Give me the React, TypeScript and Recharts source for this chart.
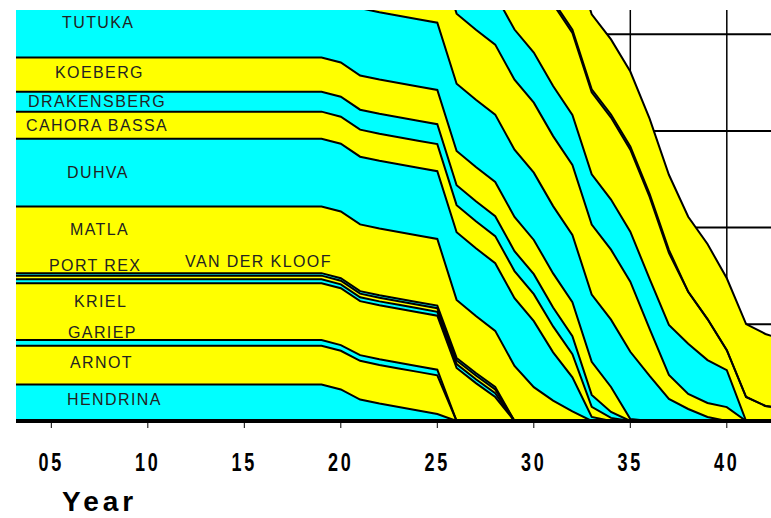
import React from 'react';
import { AreaChart, Area, XAxis, YAxis, CartesianGrid } from 'recharts';

const CYAN = '#00FFFF';
const YELLOW = '#FFFF00';

// capacity in MW, stacked from the bottom up
const years = [3, 19, 20, 21, 22, 23, 24, 25, 26, 27, 28, 29, 30, 31, 32, 33, 34, 35, 36, 37, 38, 39, 40, 41, 42, 43];
const yearTicks = [5, 10, 15, 20, 25, 30, 35, 40];
const gridValues = [5000, 10000, 15000, 20000];

const hendrina = [1890, 1890, 1630, 1110, 900, 720, 540, 360, 0, 0, 0, 0, 0, 0, 0, 0, 0, 0, 0, 0, 0, 0, 0, 0, 0, 0];
const arnot = [2000, 2000, 2000, 2000, 2000, 2000, 2000, 2000, 0, 0, 0, 0, 0, 0, 0, 0, 0, 0, 0, 0, 0, 0, 0, 0, 0, 0];
const gariep = [295, 295, 295, 295, 295, 295, 295, 295, 0, 0, 0, 0, 0, 0, 0, 0, 0, 0, 0, 0, 0, 0, 0, 0, 0, 0];
const kriel = [2940, 2940, 2940, 2790, 2790, 2790, 2790, 2790, 2740, 1960, 1240, 0, 0, 0, 0, 0, 0, 0, 0, 0, 0, 0, 0, 0, 0, 0];
const vanDerKloof = [200, 200, 200, 200, 200, 200, 200, 200, 200, 200, 200, 0, 0, 0, 0, 0, 0, 0, 0, 0, 0, 0, 0, 0, 0, 0];
const acacia = [190, 190, 190, 190, 190, 190, 190, 190, 190, 190, 190, 0, 0, 0, 0, 0, 0, 0, 0, 0, 0, 0, 0, 0, 0, 0];
const portRex = [130, 130, 130, 130, 130, 130, 130, 130, 130, 130, 130, 0, 0, 0, 0, 0, 0, 0, 0, 0, 0, 0, 0, 0, 0, 0];
const matla = [3450, 3450, 3450, 3450, 3450, 3450, 3450, 3450, 3000, 2950, 2900, 2850, 1750, 1050, 500, 0, 0, 0, 0, 0, 0, 0, 0, 0, 0, 0];
const duhva = [3500, 3500, 3500, 3500, 3500, 3500, 3500, 3500, 3500, 3500, 3500, 3500, 3410, 2500, 1760, 210, 0, 0, 0, 0, 0, 0, 0, 0, 0, 0];
const cahoraBassa = [1400, 1400, 1400, 1400, 1400, 1400, 1400, 1400, 1400, 1400, 1400, 1400, 1400, 1340, 1190, 520, 160, 0, 0, 0, 0, 0, 0, 0, 0, 0];
const drakensberg = [1030, 1030, 1030, 1030, 1030, 1030, 1030, 1030, 1030, 1030, 1030, 1030, 1030, 980, 930, 620, 310, 0, 0, 0, 0, 0, 0, 0, 0, 0];
const koeberg = [1770, 1770, 1770, 1770, 1770, 1770, 1770, 1770, 1770, 1770, 1770, 1770, 1770, 1760, 1760, 1710, 1290, 100, 0, 0, 0, 0, 0, 0, 0, 0];
const tutuka = [3480, 3480, 3480, 3480, 3480, 3480, 3480, 3480, 3480, 3480, 3480, 3480, 3480, 3480, 3480, 3480, 3480, 3480, 2330, 1140, 620, 210, 0, 0, 0, 0];
// unlabelled stations above Tutuka (only their lower parts show)
const station14 = [3620, 3620, 3620, 3620, 3620, 3620, 3620, 3620, 3620, 3620, 3620, 3620, 3620, 3620, 3620, 3620, 3620, 3620, 2430, 1240, 780, 720, 720, 0, 0, 0];
const station15 = [2590, 2590, 2590, 2590, 2590, 2590, 2590, 2590, 2590, 2590, 2590, 2590, 2590, 2590, 2590, 2590, 2590, 2590, 2590, 2590, 2590, 2220, 1910, 0, 0, 0];
const station16 = [4240, 4240, 4240, 4240, 4240, 4240, 4240, 4240, 4240, 4240, 4240, 4240, 4240, 4240, 4240, 4240, 4240, 4240, 4240, 3720, 2690, 2120, 1030, 1240, 780, 620];
const station17 = [160, 160, 160, 160, 160, 160, 160, 160, 160, 160, 160, 160, 160, 160, 160, 160, 160, 160, 160, 160, 0, 0, 0, 0, 0, 0];
const station18 = [3880, 3880, 3880, 3880, 3880, 3880, 3880, 3880, 3880, 3880, 3880, 3880, 3880, 3880, 3880, 3880, 3880, 3880, 3880, 3880, 3880, 3880, 3720, 3770, 3720, 3570];

const stations = [
  { key: 'hendrina', values: hendrina, fill: CYAN },
  { key: 'arnot', values: arnot, fill: YELLOW },
  { key: 'gariep', values: gariep, fill: CYAN },
  { key: 'kriel', values: kriel, fill: YELLOW },
  { key: 'vanDerKloof', values: vanDerKloof, fill: CYAN },
  { key: 'acacia', values: acacia, fill: YELLOW },
  { key: 'portRex', values: portRex, fill: CYAN },
  { key: 'matla', values: matla, fill: YELLOW },
  { key: 'duhva', values: duhva, fill: CYAN },
  { key: 'cahoraBassa', values: cahoraBassa, fill: YELLOW },
  { key: 'drakensberg', values: drakensberg, fill: CYAN },
  { key: 'koeberg', values: koeberg, fill: YELLOW },
  { key: 'tutuka', values: tutuka, fill: CYAN },
  { key: 'station14', values: station14, fill: YELLOW },
  { key: 'station15', values: station15, fill: CYAN },
  { key: 'station16', values: station16, fill: YELLOW },
  { key: 'station17', values: station17, fill: CYAN },
  { key: 'station18', values: station18, fill: YELLOW },
];

const labels = [
  { text: 'TUTUKA', x: 62, y: 23 },
  { text: 'KOEBERG', x: 55, y: 73 },
  { text: 'DRAKENSBERG', x: 28, y: 102 },
  { text: 'CAHORA BASSA', x: 26, y: 126 },
  { text: 'DUHVA', x: 67, y: 173 },
  { text: 'MATLA', x: 70, y: 230 },
  { text: 'PORT REX', x: 49, y: 266 },
  { text: 'VAN DER KLOOF', x: 185, y: 262 },
  { text: 'KRIEL', x: 74, y: 302 },
  { text: 'GARIEP', x: 68, y: 333 },
  { text: 'ARNOT', x: 70, y: 363 },
  { text: 'HENDRINA', x: 67, y: 400 },
];

const data = years.map((year, i) => {
  const row: Record<string, number> = { year };
  stations.forEach((s) => {
    row[s.key] = s.values[i];
  });
  return row;
});

const font = '"Liberation Sans", Arial, sans-serif';

function YearTick(props: any) {
  const { x, y, payload } = props;
  return (
    <text
      x={0}
      y={0}
      transform={`translate(${x},${y + 19}) scale(0.72,1)`}
      textAnchor="middle"
      fontSize={25}
      fontWeight="bold"
      fontFamily={font}
      letterSpacing={4}
      fill="#000"
    >
      {String(payload.value).padStart(2, '0')}
    </text>
  );
}

export default function App() {
  return (
    <div style={{ position: 'absolute', left: 0, top: 0, width: 771, height: 518, background: '#fff', overflow: 'hidden' }}>
      <AreaChart width={771} height={518} data={data} margin={{ top: 10, right: 0, left: 16, bottom: 0 }}>
        <CartesianGrid horizontal={false} vertical stroke="#000" strokeWidth={1.5} verticalValues={yearTicks} />
        <CartesianGrid vertical={false} horizontal stroke="#000" strokeWidth={2} horizontalValues={gridValues} />
        <XAxis
          dataKey="year"
          type="number"
          domain={[3.17, 42.29]}
          allowDataOverflow
          ticks={yearTicks}
          height={97}
          tickSize={7}
          tickMargin={24}
          axisLine={{ stroke: '#000', strokeWidth: 4 }}
          tickLine={{ stroke: '#000', strokeWidth: 1 }}
          tick={<YearTick />}
        />
        <YAxis hide domain={[0, 21250]} allowDataOverflow ticks={gridValues} />
        {stations.map((s) => (
          <Area
            key={`fill-${s.key}`}
            dataKey={s.key}
            stackId="fill"
            type="linear"
            fill={s.fill}
            fillOpacity={1}
            stroke="none"
            isAnimationActive={false}
          />
        ))}
        {stations.map((s) => (
          <Area
            key={`line-${s.key}`}
            dataKey={s.key}
            stackId="line"
            type="linear"
            fill="none"
            stroke="#000"
            strokeWidth={2}
            isAnimationActive={false}
          />
        ))}
      </AreaChart>
      {labels.map((l) => (
        <div
          key={l.text}
          style={{
            position: 'absolute',
            left: l.x,
            top: l.y - 9,
            fontFamily: font,
            fontSize: 16,
            lineHeight: '18px',
            letterSpacing: 1.4,
            color: '#222',
            whiteSpace: 'nowrap',
          }}
        >
          {l.text}
        </div>
      ))}
      <div
        style={{
          position: 'absolute',
          left: 62,
          top: 488,
          fontFamily: font,
          fontSize: 28,
          fontWeight: 'bold',
          letterSpacing: 4,
          lineHeight: '28px',
          color: '#000',
        }}
      >
        Year
      </div>
    </div>
  );
}
